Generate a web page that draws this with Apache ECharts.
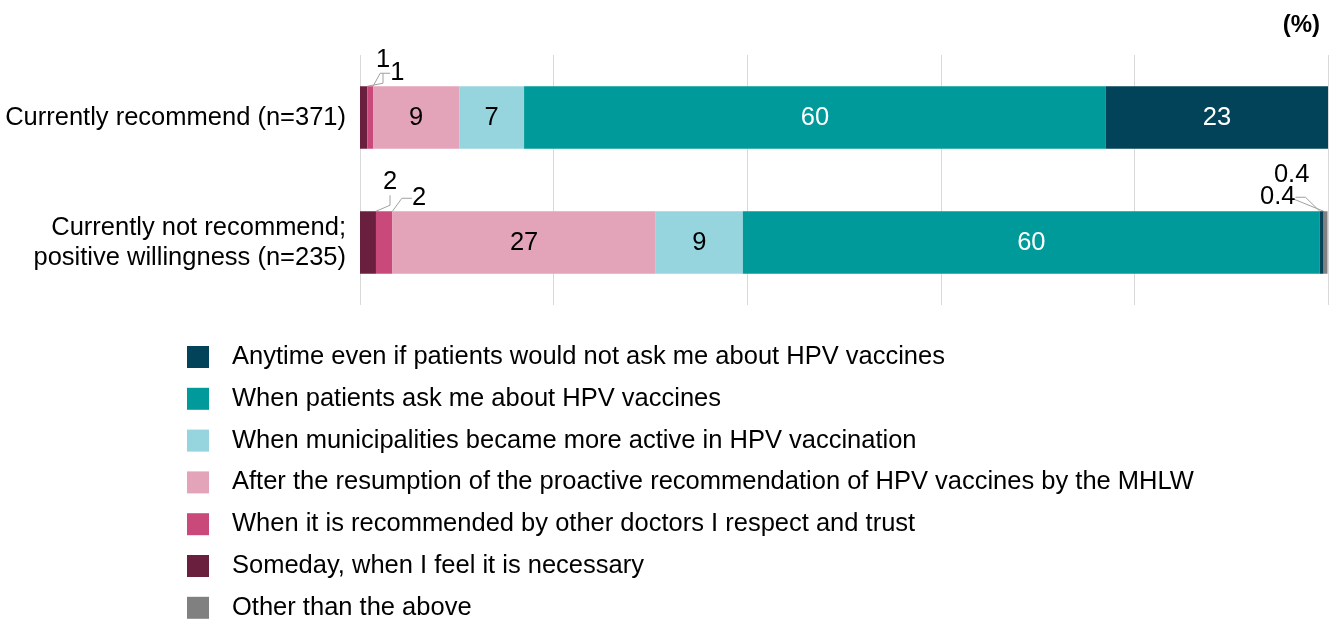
<!DOCTYPE html>
<html>
<head>
<meta charset="utf-8">
<script src="https://cdn.jsdelivr.net/npm/echarts@6/dist/echarts.min.js"></script>
<style>
  html, body { margin: 0; padding: 0; background: #fff; }
  #chart { width: 1334px; height: 620px; }
</style>
</head>
<body>
<div id="chart"></div>
<script>
const categories = ['Currently recommend (n=371)', 'Currently not recommend;\npositive willingness (n=235)']

// values in %, per category (top row first)
const someday = [0.75, 1.65]
const otherDoctors = [0.6, 1.7]
const mhlw = [8.9, 27.2]
const municipalities = [6.7, 9.0]
const patientsAsk = [60.1, 59.6]
const anytime = [22.95, 0.4]
const otherAbove = [null, 0.4]

const xTicks = [0, 20, 40, 60, 80, 100]

const names = {
  anytime: 'Anytime even if patients would not ask me about HPV vaccines',
  ask: 'When patients ask me about HPV vaccines',
  muni: 'When municipalities became more active in HPV vaccination',
  mhlw: 'After the resumption of the proactive recommendation of HPV vaccines by the MHLW',
  doctors: 'When it is recommended by other doctors I respect and trust',
  someday: 'Someday, when I feel it is necessary',
  other: 'Other than the above'
}

const FONT = "'Liberation Sans', Arial, sans-serif"
const FS = 25.5

// small labels moved out of the bar: 'series-dataIndex' -> label centre offset from bar rect top-left
const moved = {
  '0-0': [23, -26],
  '1-0': [30, -13],
  '0-1': [30, -29],
  '1-1': [43, -13],
  '5-1': [-42, -14],
  '6-1': [-32, -36]
}

function fmt(p) {
  const v = p.value
  if (v == null || v === 0) return ''
  return v < 0.5 ? v.toFixed(1) : String(Math.round(v))
}

function makeSeries(idx, name, values, color, textColor) {
  const data = values.map((v, i) =>
    moved[idx + '-' + i] ? { value: v, label: { color: '#000' } } : v
  )
  return {
    name,
    type: 'bar',
    stack: 'total',
    data,
    barWidth: '50%',
    itemStyle: { color },
    label: {
      show: true,
      position: 'inside',
      color: textColor,
      fontSize: FS,
      fontFamily: FONT,
      formatter: fmt
    },
    labelLine: {
      show: true,
      length2: 10,
      lineStyle: { color: '#a0a0a0', width: 1 }
    }
  }
}

const chart = echarts.init(document.getElementById('chart'))

chart.setOption({
  animation: false,
  textStyle: { fontFamily: FONT },
  title: {
    text: '(%)',
    right: 9,
    top: 8,
    textStyle: { fontSize: 24, fontWeight: 'bold', color: '#000', fontFamily: FONT }
  },
  grid: { left: 360, right: 6, top: 55, bottom: 315 },
  xAxis: {
    type: 'value',
    min: xTicks[0],
    max: xTicks[xTicks.length - 1],
    interval: 20,
    axisLabel: { show: false },
    axisLine: { show: false },
    axisTick: { show: false },
    splitLine: { lineStyle: { color: '#d9d9d9', width: 1 } }
  },
  yAxis: {
    type: 'category',
    inverse: true,
    data: categories,
    axisLine: { show: false },
    axisTick: { show: false },
    axisLabel: {
      color: '#000',
      fontSize: FS,
      fontFamily: FONT,
      lineHeight: 30,
      margin: 14
    }
  },
  legend: {
    orient: 'vertical',
    left: 187,
    top: 344,
    height: 400,
    padding: 0,
    itemWidth: 22,
    itemHeight: 22,
    itemGap: 15.8,
    icon: 'rect',
    data: [names.anytime, names.ask, names.muni, names.mhlw, names.doctors, names.someday, names.other],
    textStyle: { fontSize: FS, color: '#000', fontFamily: FONT, padding: [0, 0, 0, 18] }
  },
  labelLayout(params) {
    const off = moved[params.seriesIndex + '-' + params.dataIndex]
    if (!off) return {}
    const r = params.rect
    const lr = params.labelRect
    return {
      x: r.x + off[0] - lr.width / 2,
      y: r.y + off[1] - lr.height / 2
    }
  },
  series: [
    makeSeries(0, names.someday, someday, '#6b1f3e', '#000'),
    makeSeries(1, names.doctors, otherDoctors, '#c94a7a', '#000'),
    makeSeries(2, names.mhlw, mhlw, '#e3a3b9', '#000'),
    makeSeries(3, names.muni, municipalities, '#96d5de', '#000'),
    makeSeries(4, names.ask, patientsAsk, '#009a9a', '#fff'),
    makeSeries(5, names.anytime, anytime, '#02435a', '#fff'),
    makeSeries(6, names.other, otherAbove, '#808080', '#000')
  ]
})
</script>
</body>
</html>
